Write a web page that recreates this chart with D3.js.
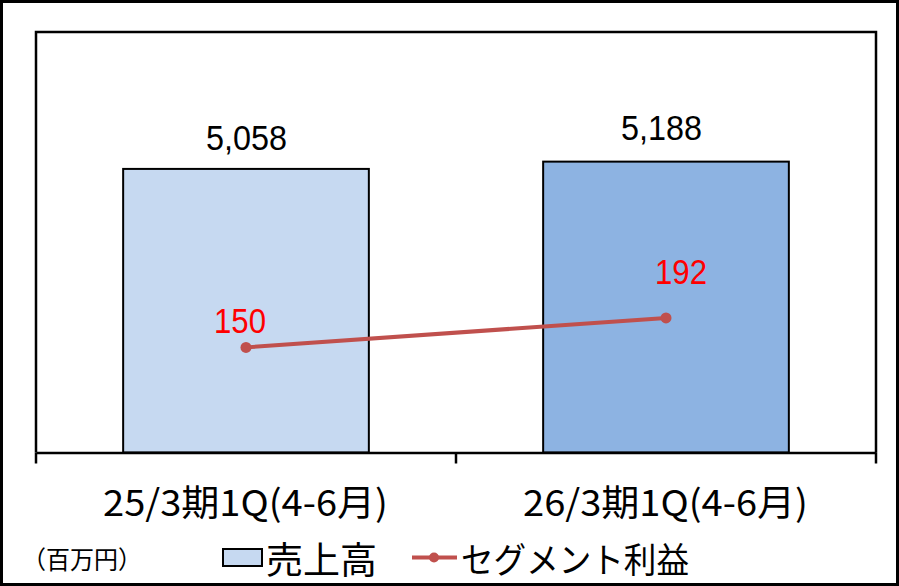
<!DOCTYPE html>
<html>
<head>
<meta charset="utf-8">
<script src="https://cdn.jsdelivr.net/npm/d3@7"></script>
<style>
  html, body { margin: 0; padding: 0; background: #fff; }
  svg { display: block; }
</style>
</head>
<body>
<svg id="chart" width="899" height="586"></svg>
<script>
// ---- data ----
const categories = ["25/3期1Q(4-6月)", "26/3期1Q(4-6月)"];
const salesValues = [5058, 5188];
const profitValues = [150, 192];
const salesLabels = ["5,058", "5,188"];
const profitLabels = ["150", "192"];
const barColors = ["#c6d9f1", "#8db3e2"];
const legendLabels = ["売上高", "セグメント利益"];
const unitLabel = "（百万円）";
const salesDomain = [0, 7500];
const profitDomain = [0, 600];

// ---- layout ----
const svg = d3.select("#chart");
const W = 899, H = 586;
const plot = { left: 36, right: 876, top: 32, bottom: 452.5 };
const jpFont = "'Noto Sans CJK JP', 'Noto Sans', sans-serif";
const numFont = "'Liberation Sans', Arial, sans-serif";
const lineColor = "#c0504d";

// outer frame
svg.append("rect").attr("x", 1.5).attr("y", 1.5).attr("width", W - 3).attr("height", H - 3)
  .attr("fill", "#fff").attr("stroke", "#000").attr("stroke-width", 3);

const x = d3.scaleBand().domain(categories).range([plot.left, plot.right]).paddingInner(0).paddingOuter(0);
const ySales = d3.scaleLinear().domain(salesDomain).range([plot.bottom, plot.top]);
const yProfit = d3.scaleLinear().domain(profitDomain).range([plot.bottom, plot.top]);
const barW = x.bandwidth() * 0.585;
const cx = d => x(d) + x.bandwidth() / 2;

// plot border (left, top, right)
svg.append("path")
  .attr("d", `M${plot.left},${plot.bottom} V${plot.top} H${plot.right} V${plot.bottom}`)
  .attr("fill", "none").attr("stroke", "#000").attr("stroke-width", 2.5);

// bars
svg.selectAll("rect.bar").data(categories).enter().append("rect")
  .attr("class", "bar")
  .attr("x", d => cx(d) - barW / 2)
  .attr("y", (d, i) => ySales(salesValues[i]))
  .attr("width", barW)
  .attr("height", (d, i) => plot.bottom - ySales(salesValues[i]))
  .attr("fill", (d, i) => barColors[i])
  .attr("stroke", "#000").attr("stroke-width", 2);

// x axis
const xAxis = d3.axisBottom(x).tickValues([]).tickSizeOuter(0);
const axisG = svg.append("g").attr("transform", `translate(0,${plot.bottom})`).call(xAxis);
axisG.select(".domain").attr("stroke", "#000").attr("stroke-width", 2.5);
// category boundary ticks
const boundaries = [plot.left, ...categories.slice(1).map(d => x(d)), plot.right];
axisG.selectAll("line.bt").data(boundaries).enter().append("line")
  .attr("x1", d => d).attr("x2", d => d).attr("y1", 0).attr("y2", 11)
  .attr("stroke", "#000").attr("stroke-width", 2.5);

// category labels
svg.selectAll("text.cat").data(categories).enter().append("text")
  .attr("x", d => cx(d) - 143).attr("y", 500)
  .attr("dominant-baseline", "central")
  .attr("textLength", 285).attr("lengthAdjust", "spacingAndGlyphs")
  .attr("font-family", jpFont).attr("font-size", 36).attr("fill", "#000")
  .text(d => d);

// sales labels
svg.selectAll("text.sl").data(categories).enter().append("text")
  .attr("x", (d, i) => cx(d) - 40 - i * 5).attr("y", (d, i) => ySales(salesValues[i]) - 19 - i * 3)
  .attr("textLength", 81).attr("lengthAdjust", "spacingAndGlyphs")
  .attr("font-family", numFont).attr("font-size", 35).attr("fill", "#000")
  .text((d, i) => salesLabels[i]);

// profit line
const line = d3.line().x(d => cx(d)).y((d, i) => yProfit(profitValues[i]));
svg.append("path").datum(categories)
  .attr("d", line).attr("fill", "none")
  .attr("stroke", lineColor).attr("stroke-width", 4);
svg.selectAll("circle.pt").data(categories).enter().append("circle")
  .attr("cx", d => cx(d)).attr("cy", (d, i) => yProfit(profitValues[i])).attr("r", 5.5)
  .attr("fill", lineColor);

// profit labels (manually placed offsets like the original)
const plDx = [-32, -11];
const plDy = [-14, -34];
svg.selectAll("text.pl").data(categories).enter().append("text")
  .attr("x", (d, i) => cx(d) + plDx[i]).attr("y", (d, i) => yProfit(profitValues[i]) + plDy[i])
  .attr("textLength", 52).attr("lengthAdjust", "spacingAndGlyphs")
  .attr("font-family", numFont).attr("font-size", 35).attr("fill", "#ff0000")
  .text((d, i) => profitLabels[i]);

// legend
const ly = 557.5;
svg.append("text").attr("x", 22).attr("y", ly)
  .attr("dominant-baseline", "central")
  .attr("textLength", 120).attr("lengthAdjust", "spacingAndGlyphs")
  .attr("font-family", jpFont).attr("font-size", 25).attr("fill", "#000")
  .text(unitLabel);

svg.append("rect").attr("x", 223).attr("y", 549).attr("width", 39).attr("height", 17)
  .attr("fill", barColors[0]).attr("stroke", "#000").attr("stroke-width", 2);
svg.append("text").attr("x", 266).attr("y", ly)
  .attr("dominant-baseline", "central")
  .attr("textLength", 111).attr("lengthAdjust", "spacingAndGlyphs")
  .attr("font-family", jpFont).attr("font-size", 37).attr("fill", "#000")
  .text(legendLabels[0]);

svg.append("line").attr("x1", 412).attr("x2", 457).attr("y1", ly).attr("y2", ly)
  .attr("stroke", lineColor).attr("stroke-width", 4);
svg.append("circle").attr("cx", 434).attr("cy", ly).attr("r", 5).attr("fill", lineColor);
svg.append("text").attr("x", 461).attr("y", ly)
  .attr("dominant-baseline", "central")
  .attr("textLength", 228).attr("lengthAdjust", "spacingAndGlyphs")
  .attr("font-family", jpFont).attr("font-size", 35).attr("fill", "#000")
  .text(legendLabels[1]);
</script>
</body>
</html>
